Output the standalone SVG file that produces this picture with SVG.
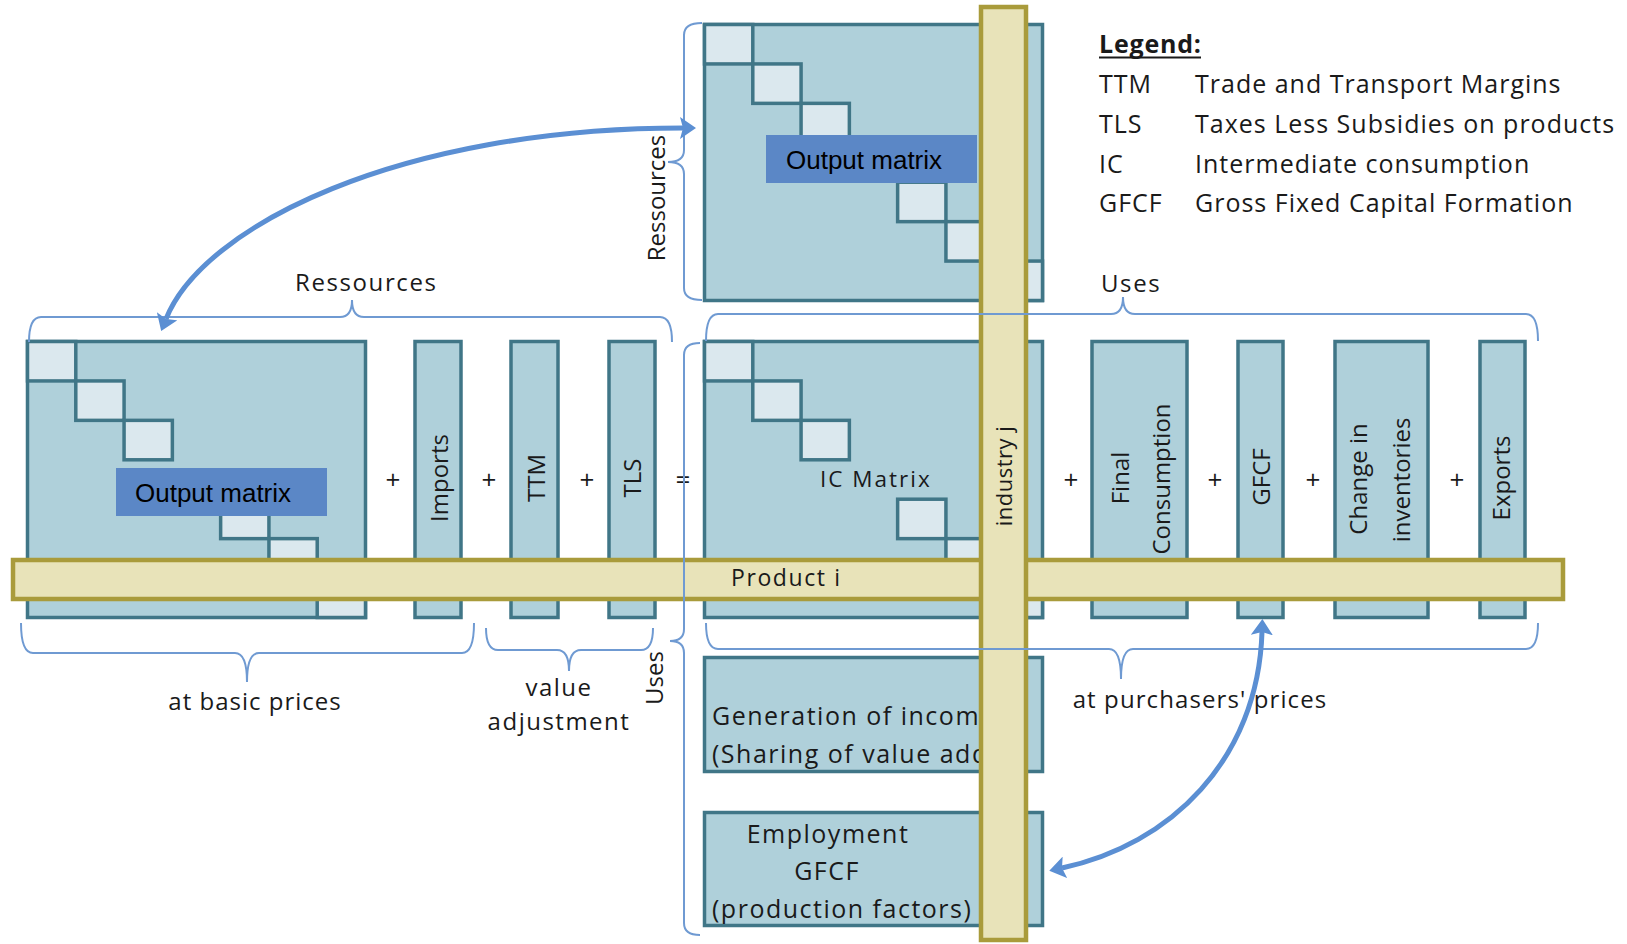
<svg xmlns="http://www.w3.org/2000/svg" width="1627" height="944" viewBox="0 0 1627 944">
<style>
.mx{fill:#afd0da;stroke:#407687;stroke-width:3.5}
.dg{fill:#dbe8ee;stroke:#407687;stroke-width:3.5}
.lbl{fill:#5b87c6}
.bar{fill:#e8e3b9;stroke:#a99b3b;stroke-width:4.5}
.br{fill:none;stroke:#6f9ad2;stroke-width:2}
.ar{fill:none;stroke:#5b8fd3;stroke-width:5}
.t{font-family:"Open Sans","Noto Sans",sans-serif;font-size:24px;fill:#1a1a1a}
.th{font-family:"Open Sans","Noto Sans",sans-serif;font-size:24px;fill:#1a1a1a;letter-spacing:1.6px}
.tb{font-family:"Open Sans","Noto Sans",sans-serif;font-size:25px;fill:#1a1a1a;letter-spacing:1.5px}
.lg{font-family:"Open Sans","Noto Sans",sans-serif;font-size:25px;fill:#1a1a1a;letter-spacing:1px}
.om{font-family:"Liberation Sans",Arial,sans-serif;font-size:26px;fill:#000}
.pl{font-family:"Open Sans","Noto Sans",sans-serif;font-size:26px;fill:#1a1a1a;text-anchor:middle}
.mid{text-anchor:middle}
</style>
<defs>
<marker id="ah" markerUnits="userSpaceOnUse" viewBox="0 0 16 22" markerWidth="16" markerHeight="22" refX="3" refY="11" orient="auto-start-reverse">
<path d="M0,0 L16,11 L0,22 L3,11 z" fill="#5b8fd3"/>
</marker>
<clipPath id="genclip"><rect x="700" y="650" width="279" height="130"/></clipPath>
</defs>
<rect width="1627" height="944" fill="#fff"/>

<g id="output-matrix-top">
<rect class="mx" x="704.5" y="24.5" width="338" height="276"/>
<rect class="dg" x="704.5" y="24.5" width="48.29" height="39.43"/>
<rect class="dg" x="752.79" y="63.93" width="48.29" height="39.43"/>
<rect class="dg" x="801.07" y="103.36" width="48.29" height="39.43"/>
<rect class="dg" x="897.64" y="182.21" width="48.29" height="39.43"/>
<rect class="dg" x="945.93" y="221.64" width="48.29" height="39.43"/>
<rect class="dg" x="994.21" y="261.07" width="48.29" height="39.43"/>
<rect class="lbl" x="766" y="135" width="211" height="48"/>
<text class="om" x="786" y="169">Output matrix</text>
</g>

<g id="output-matrix-left">
<rect class="mx" x="27.5" y="341.5" width="338" height="276"/>
<rect class="dg" x="27.5" y="341.5" width="48.29" height="39.43"/>
<rect class="dg" x="75.79" y="380.93" width="48.29" height="39.43"/>
<rect class="dg" x="124.07" y="420.36" width="48.29" height="39.43"/>
<rect class="dg" x="220.64" y="499.21" width="48.29" height="39.43"/>
<rect class="dg" x="268.93" y="538.64" width="48.29" height="39.43"/>
<rect class="dg" x="317.21" y="578.07" width="48.29" height="39.43"/>
<rect class="lbl" x="116" y="468" width="211" height="48"/>
<text class="om" x="135" y="502">Output matrix</text>
</g>

<g id="imports">
<rect class="mx" x="415" y="341.5" width="46" height="276"/>
<text class="t mid" transform="translate(448,478) rotate(-90)">Imports</text>
</g>
<g id="ttm">
<rect class="mx" x="511" y="341.5" width="47" height="276"/>
<text class="t mid" transform="translate(545,478) rotate(-90)">TTM</text>
</g>
<g id="tls">
<rect class="mx" x="609" y="341.5" width="46" height="276"/>
<text class="t mid" transform="translate(641,478) rotate(-90)">TLS</text>
</g>

<g id="ic-matrix">
<rect class="mx" x="704.5" y="341.5" width="338" height="276"/>
<rect class="dg" x="704.5" y="341.5" width="48.29" height="39.43"/>
<rect class="dg" x="752.79" y="380.93" width="48.29" height="39.43"/>
<rect class="dg" x="801.07" y="420.36" width="48.29" height="39.43"/>
<rect class="dg" x="897.64" y="499.21" width="48.29" height="39.43"/>
<rect class="dg" x="945.93" y="538.64" width="48.29" height="39.43"/>
<rect class="dg" x="994.21" y="578.07" width="48.29" height="39.43"/>
<text class="th" x="820" y="487" style="font-size:22.5px;letter-spacing:2px">IC Matrix</text>
</g>

<g id="final-consumption">
<rect class="mx" x="1092" y="341.5" width="95" height="276"/>
<text class="t mid" transform="translate(1129,478) rotate(-90)">Final</text>
<text class="t mid" transform="translate(1170,479) rotate(-90)">Consumption</text>
</g>
<g id="gfcf">
<rect class="mx" x="1238" y="341.5" width="45" height="276"/>
<text class="t mid" transform="translate(1270,477) rotate(-90)">GFCF</text>
</g>
<g id="change-in-inventories">
<rect class="mx" x="1335" y="341.5" width="93" height="276"/>
<text class="t mid" transform="translate(1367,479) rotate(-90)">Change in</text>
<text class="t mid" transform="translate(1410,480) rotate(-90)">inventories</text>
</g>
<g id="exports">
<rect class="mx" x="1480" y="341.5" width="45" height="276"/>
<text class="t mid" transform="translate(1510,478) rotate(-90)">Exports</text>
</g>

<g id="operators">
<text class="pl" x="393" y="489">+</text>
<text class="pl" x="489" y="489">+</text>
<text class="pl" x="587" y="489">+</text>
<text class="pl" x="683" y="489">=</text>
<text class="pl" x="1071" y="489">+</text>
<text class="pl" x="1215" y="489">+</text>
<text class="pl" x="1313" y="489">+</text>
<text class="pl" x="1457" y="489">+</text>
</g>

<g id="generation-of-income">
<rect class="mx" x="704.5" y="657.5" width="338" height="114"/>
<g clip-path="url(#genclip)">
<text class="tb" x="712" y="725">Generation of income</text>
<text class="tb" x="712" y="763">(Sharing of value added)</text>
</g>
</g>

<g id="employment">
<rect class="mx" x="704.5" y="812.5" width="338" height="113"/>
<text class="tb mid" x="828" y="843">Employment</text>
<text class="tb mid" x="827" y="880">GFCF</text>
<text class="tb" x="712" y="918">(production factors)</text>
</g>

<g id="product-i">
<rect class="bar" x="13" y="560" width="1550" height="39"/>
<text class="th" x="731" y="586" style="font-size:23px">Product i</text>
</g>

<g id="industry-j">
<rect class="bar" x="981" y="7" width="45" height="933"/>
<text class="t mid" transform="translate(1012,476) rotate(-90)" style="font-size:22px;letter-spacing:0.5px">industry j</text>
</g>

<g id="legend">
<text x="1099" y="53" style="font-family:'Open Sans','Noto Sans',sans-serif;font-size:25px;font-weight:bold;fill:#1a1a1a;letter-spacing:0.8px">Legend:</text>
<line x1="1099" y1="57.5" x2="1201" y2="57.5" stroke="#1a1a1a" stroke-width="2"/>
<text class="lg" x="1099" y="93">TTM</text>
<text class="lg" x="1195" y="93">Trade and Transport Margins</text>
<text class="lg" x="1099" y="133">TLS</text>
<text class="lg" x="1195" y="133">Taxes Less Subsidies on products</text>
<text class="lg" x="1099" y="173">IC</text>
<text class="lg" x="1195" y="173">Intermediate consumption</text>
<text class="lg" x="1099" y="212">GFCF</text>
<text class="lg" x="1195" y="212">Gross Fixed Capital Formation</text>
</g>

<g id="braces">
<path class="br" d="M29,342 Q29,317 41,317 L340,317 Q352,317 352,300 Q352,317 364,317 L660,317 Q672,317 672,342"/>
<text class="th" x="295" y="291">Ressources</text>
<path class="br" d="M706,341 Q706,314 718,314 L1111,314 Q1123,314 1123,297 Q1123,314 1135,314 L1526,314 Q1538,314 1538,341"/>
<text class="th" x="1101" y="292">Uses</text>
<path class="br" d="M702,23 Q684,23 684,35 L684,150 Q684,162 668,162 Q684,162 684,174 L684,288 Q684,300 702,300"/>
<text class="t mid" transform="translate(665,198) rotate(-90)">Ressources</text>
<path class="br" d="M700,343 Q684,343 684,355 L684,629 Q684,641 670,641 Q684,641 684,653 L684,923 Q684,935 700,935"/>
<text class="t mid" transform="translate(663,678) rotate(-90)">Uses</text>
<path class="br" d="M21,623 Q21,653 33,653 L235,653 Q247,653 247,682 Q247,653 259,653 L462,653 Q474,653 474,623"/>
<text class="th mid" x="255" y="710" style="letter-spacing:1px">at basic prices</text>
<path class="br" d="M486,628 Q486,650 498,650 L557,650 Q569,650 569,671 Q569,650 581,650 L641,650 Q653,650 653,628"/>
<text class="th mid" x="559" y="696" style="letter-spacing:1.5px">value</text>
<text class="th mid" x="559" y="730" style="letter-spacing:1.5px">adjustment</text>
<path class="br" d="M706,623 Q706,649 718,649 L1109,649 Q1121,649 1121,679 Q1121,649 1133,649 L1526,649 Q1538,649 1538,623"/>
<text class="th mid" x="1200" y="708" style="letter-spacing:1.1px">at purchasers' prices</text>
</g>

<g id="connectors">
<path class="ar" d="M166,319 C203,226 400,128 683,128" marker-start="url(#ah)" marker-end="url(#ah)"/>
<path class="ar" d="M1262,632 C1258,760 1170,845 1062,868" marker-start="url(#ah)" marker-end="url(#ah)"/>
</g>
</svg>
